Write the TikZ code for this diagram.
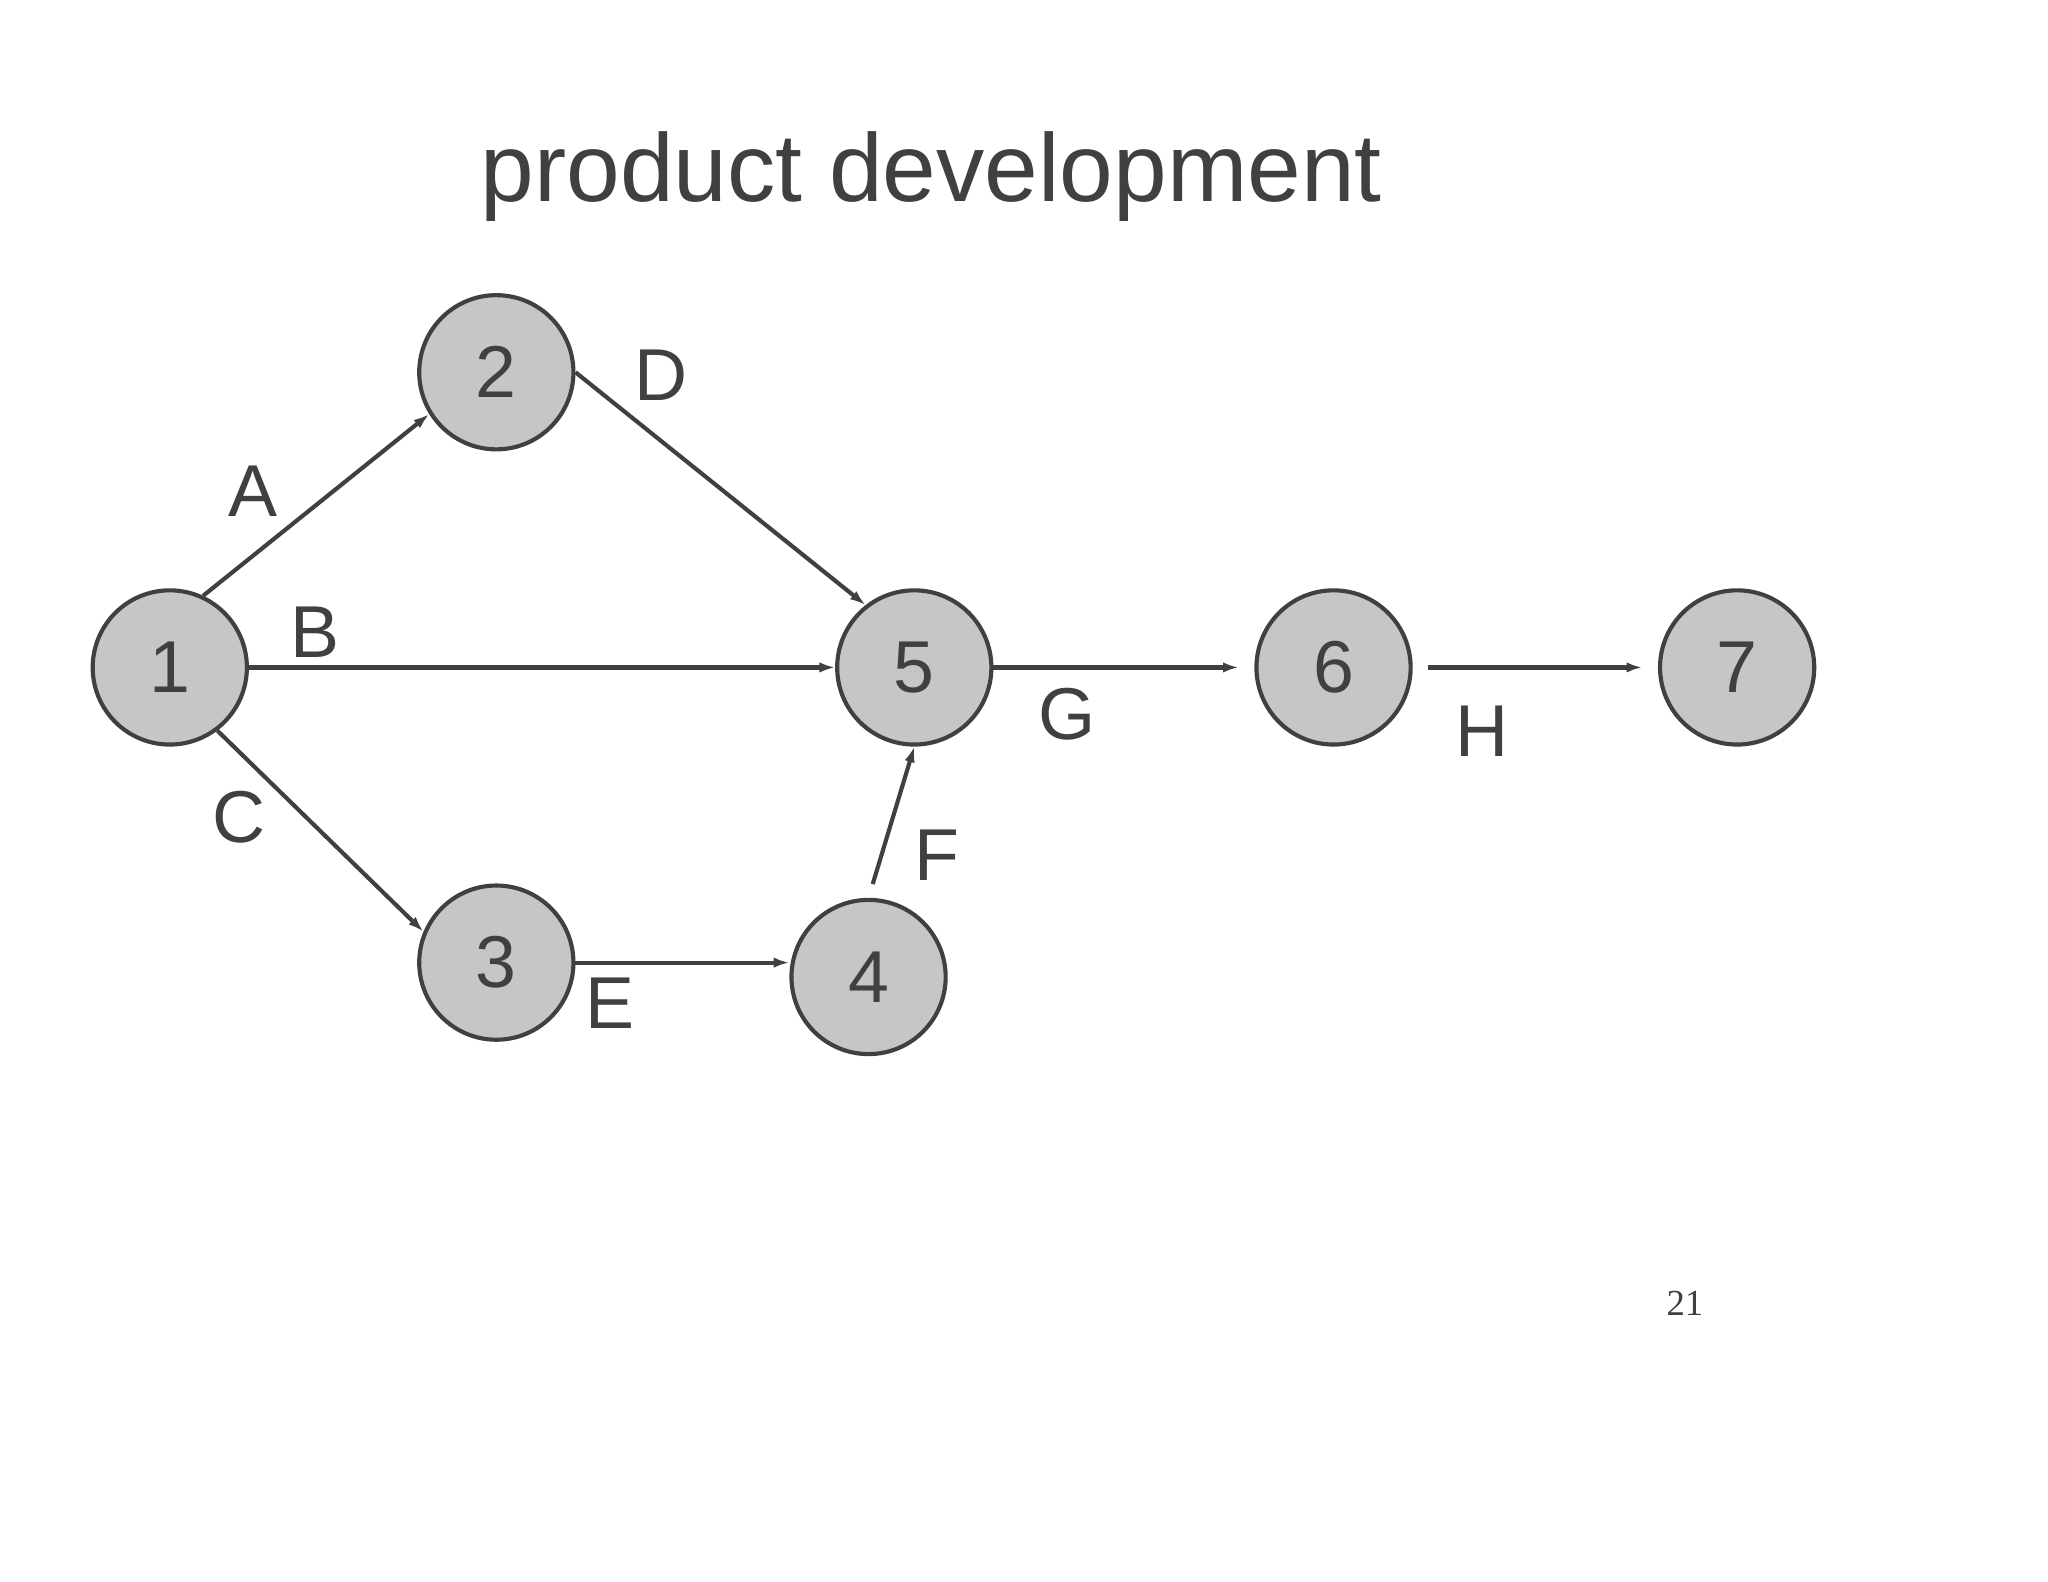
\documentclass[tikz,border=0pt]{standalone}
\usepackage{fontspec}
\setmainfont{Liberation Sans}
\newfontfamily\serifnum{Liberation Serif}
\usetikzlibrary{arrows.meta}
\definecolor{ink}{HTML}{404040}
\definecolor{nodefill}{HTML}{C6C6C6}
\begin{document}
\begin{tikzpicture}[x=0.01cm,y=-0.01cm,
  ev/.style={circle,draw=ink,fill=nodefill,line width=0.9pt,minimum size=1.18cm,inner sep=0pt,font=\fontsize{16}{18}\selectfont,text=ink},
  lab/.style={font=\fontsize{16}{18}\selectfont,text=ink},
  arr/.style={draw=ink,line width=0.9pt,-{Latex[length=0.12cm,width=0.08cm]}}]
\useasboundingbox[fill=white] (0,0) rectangle (1568,1211);
\node[font=\fontsize{21}{24}\selectfont,text=ink] (title) at (713,135) {product development};
\node[ev] (n1) at (130,511) {1};
\node[ev] (n2) at (380,285) {2};
\node[ev] (n3) at (380,737) {3};
\node[ev] (n4) at (665,748) {4};
\node[ev] (n5) at (700,511) {5};
\node[ev] (n6) at (1021,511) {6};
\node[ev] (n7) at (1330,511) {7};
\draw[arr] (n1.65) -- (n2.212);
\draw[arr] (n2.0) -- (n5.128);
\draw[arr] (n1.east) -- (n5.west);
\draw[arr] (n1.-53) -- (n3.157);
\draw[arr] (n3.east) -- (n3.east -| n4.west);
\draw[arr,shorten <=0.11cm] (n4.north) -- (n5.south);
\draw[arr,shorten >=0.12cm] (n5.east) -- (n6.west);
\draw[arr,shorten <=0.12cm,shorten >=0.12cm] (n6.east) -- (n7.west);
\node[lab] (la) at (194,376) {A};
\node[lab] (lb) at (241,484) {B};
\node[lab] (lc) at (183,626) {C};
\node[lab] (ld) at (506,287) {D};
\node[lab] (le) at (467,768) {E};
\node[lab] (lf) at (717,655) {F};
\node[lab] (lg) at (817,547) {G};
\node[lab] (lh) at (1135,560) {H};
\node[font=\serifnum\fontsize{8}{10}\selectfont,text=ink] (pg) at (1290,998) {21};
\end{tikzpicture}
\end{document}
